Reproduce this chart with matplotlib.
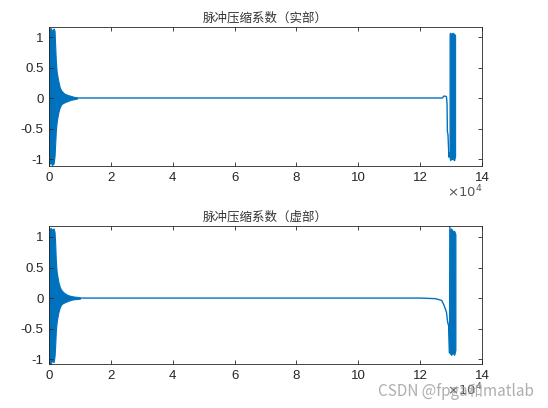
import numpy as np
import matplotlib
matplotlib.use('Agg')
import matplotlib.pyplot as plt

plt.rcParams['font.family'] = ['Liberation Sans', 'Noto Sans CJK SC', 'DejaVu Sans']

# x values in units of 1e4 samples
# real part: dense start, flat middle, drop + dense end
re_start_x = [0, 0.05, 0.1, 0.15, 0.18, 0.2, 0.22, 0.25, 0.3, 0.35, 0.4, 0.5, 0.6, 0.7, 0.8, 0.9]
re_start_up = [1.12, 1.15, 1.1, 1.14, 1.1, 0.85, 0.62, 0.42, 0.28, 0.17, 0.12, 0.07, 0.05, 0.035, 0.02, 0.01]
re_start_lo = [-1.1, -1.05, -1.1, -1.07, -0.95, -0.75, -0.55, -0.38, -0.24, -0.15, -0.1, -0.07, -0.05, -0.03, -0.02, -0.01]
re_mid_x = [0.9, 3.0, 6.0, 9.0, 12.0, 12.72, 12.76, 12.82, 12.85, 12.87, 12.88, 12.9, 12.93, 12.95]
re_mid_y = [0, 0, 0, 0, 0, 0.0, 0.03, 0.03, 0.02, -0.1, -0.55, -0.6, -0.97, -0.9]
re_end_x = [12.95, 12.97, 13.0, 13.05, 13.1, 13.13]
re_end_up = [1.05, 1.07, 1.05, 1.07, 1.05, 1.03]
re_end_lo = [-0.97, -1.02, -1.0, -1.0, -1.02, -0.95]

# imaginary part
im_start_x = [0, 0.05, 0.1, 0.15, 0.18, 0.2, 0.22, 0.25, 0.3, 0.35, 0.4, 0.5, 0.6, 0.7, 0.8, 0.9, 1.0]
im_start_up = [1.12, 1.15, 1.12, 1.14, 1.08, 0.9, 0.62, 0.42, 0.27, 0.18, 0.13, 0.08, 0.05, 0.035, 0.025, 0.02, 0.01]
im_start_lo = [-1.05, -1.08, -1.02, -1.05, -0.95, -0.78, -0.55, -0.38, -0.24, -0.15, -0.1, -0.07, -0.05, -0.03, -0.02, -0.015, -0.01]
im_mid_x = [1.0, 3.0, 6.0, 9.0, 12.0, 12.5, 12.7, 12.78, 12.85, 12.89, 12.92, 12.95, 12.96]
im_mid_y = [0, 0, 0, 0, 0, -0.01, -0.04, -0.13, -0.23, -0.4, -0.45, -0.9, 1.2]
im_end_x = [12.96, 13.0, 13.05, 13.1, 13.14]
im_end_up = [1.12, 1.14, 1.1, 1.1, 1.05]
im_end_lo = [-0.9, -0.93, -0.9, -0.93, -0.85]

titles = ['脉冲压缩系数（实部）', '脉冲压缩系数（虚部）']
xticks = [0, 2, 4, 6, 8, 10, 12, 14]
yticks = [-1, -0.5, 0, 0.5, 1]

blue = '#0072BD'
grey = '#262626'

fig = plt.figure(figsize=(5.48, 4.08), dpi=100)
ax1 = fig.add_axes([0.0894, 0.5931, 0.7902, 0.3407])
ax2 = fig.add_axes([0.0894, 0.1078, 0.7902, 0.3383])

parts = [
    (ax1, re_start_x, re_start_up, re_start_lo, re_mid_x, re_mid_y, re_end_x, re_end_up, re_end_lo, (-1.115, 1.164)),
    (ax2, im_start_x, im_start_up, im_start_lo, im_mid_x, im_mid_y, im_end_x, im_end_up, im_end_lo, (-1.08, 1.18)),
]

for i, (ax, sx, su, sl, mx, my, ex, eu, el, ylim) in enumerate(parts):
    sx = np.array(sx) * 1e4
    mx = np.array(mx) * 1e4
    ex = np.array(ex) * 1e4
    ax.fill_between(sx, sl, su, color=blue, lw=0.8)
    ax.plot(mx, my, color=blue, lw=1.0)
    ax.fill_between(ex, el, eu, color=blue, lw=0.8)
    ax.set_xlim(0, 14e4)
    ax.set_ylim(*ylim)
    ax.set_xticks([t * 1e4 for t in xticks])
    ax.set_xticklabels([str(t) for t in xticks])
    ax.set_yticks(yticks)
    ax.set_yticklabels(['-1', '-0.5', '0', '0.5', '1'])
    ax.tick_params(direction='in', top=True, right=True, length=3, width=0.6,
                   colors=grey, labelsize=9.5, pad=4)
    for s in ax.spines.values():
        s.set_color(grey)
        s.set_linewidth(0.6)
    ax.set_title(titles[i], fontsize=9, color='#333333', pad=4,
                 family=['Noto Sans CJK SC', 'DejaVu Sans'])
    ax.text(1.0, -0.19, r'$\times10^{4}$', transform=ax.transAxes, ha='right',
            va='center', fontsize=9.5, color='#555555')

fig.text(0.975, 0.04, 'CSDN @fpga和matlab', ha='right', va='center', fontsize=11,
         color='#9a9a9a', alpha=0.8, family=['Noto Sans CJK SC', 'DejaVu Sans'])

fig.savefig('out.png', dpi=100)
